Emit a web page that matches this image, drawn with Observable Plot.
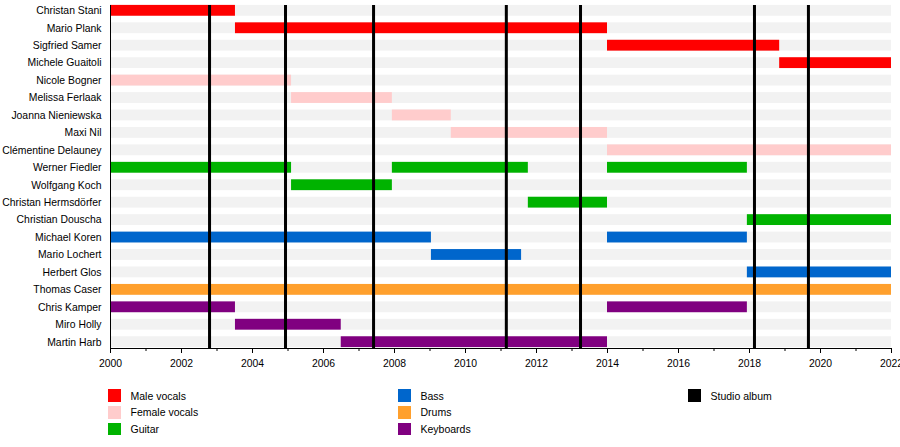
<!DOCTYPE html>
<html><head><meta charset="utf-8">
<script src="https://cdn.jsdelivr.net/npm/d3@7"></script>
<script src="https://cdn.jsdelivr.net/npm/@observablehq/plot@0.6"></script>
<style>
body{margin:0;background:#fff;font-family:"Liberation Sans",Arial,sans-serif;}
#chart{position:relative;width:900px;height:447px;overflow:hidden}
#chart svg{display:block}
.item{position:absolute;display:flex;align-items:center;font-size:10.5px;color:#000;height:12.5px;white-space:nowrap}
.sw{width:12.7px;height:12.5px;margin-right:9.5px;flex:none}
</style></head><body><div id="chart"></div>
<script>
// ---- data ----
const members = ["Christan Stani","Mario Plank","Sigfried Samer","Michele Guaitoli","Nicole Bogner","Melissa Ferlaak","Joanna Nieniewska","Maxi Nil","Clémentine Delauney","Werner Fiedler","Wolfgang Koch","Christan Hermsdörfer","Christian Douscha","Michael Koren","Mario Lochert","Herbert Glos","Thomas Caser","Chris Kamper","Miro Holly","Martin Harb"];
const memberRoles = ["Male vocals","Male vocals","Male vocals","Male vocals","Female vocals","Female vocals","Female vocals","Female vocals","Female vocals","Guitar","Guitar","Guitar","Guitar","Bass","Bass","Bass","Drums","Keyboards","Keyboards","Keyboards"];
const periodMember = ["Christan Stani","Mario Plank","Sigfried Samer","Michele Guaitoli","Nicole Bogner","Melissa Ferlaak","Joanna Nieniewska","Maxi Nil","Clémentine Delauney","Werner Fiedler","Werner Fiedler","Werner Fiedler","Wolfgang Koch","Christan Hermsdörfer","Christian Douscha","Michael Koren","Michael Koren","Mario Lochert","Herbert Glos","Thomas Caser","Chris Kamper","Chris Kamper","Miro Holly","Martin Harb"];
const periodStart = [2000,2003.52,2014,2018.85,2000,2005.1,2007.94,2009.6,2014,2000,2007.94,2014,2005.1,2011.77,2017.94,2000,2014,2009.04,2017.94,2000,2000,2014,2003.52,2006.5];
const periodEnd   = [2003.52,2014,2018.85,2022,2005.1,2007.94,2009.6,2014,2022,2005.1,2011.77,2017.94,2007.94,2014,2022,2009.04,2017.94,2011.58,2022,2022,2003.52,2017.94,2006.5,2014];
const albums = [2002.79,2004.93,2007.41,2011.15,2013.24,2018.14,2019.66];
const roleNames = ["Male vocals","Female vocals","Guitar","Bass","Drums","Keyboards"];
const roleColors = ["#ff0000","#ffcccc","#00b300","#0066cc","#ffa02d","#800080"];
const xDomain = [2000, 2022];
const majorTicks = [2000,2002,2004,2006,2008,2010,2012,2014,2016,2018,2020,2022];
const minorTicks = [2001,2003,2005,2007,2009,2011,2013,2015,2017,2019,2021];
const albumLabel = "Studio album";

const roleOf = new Map(members.map((m, i) => [m, memberRoles[i]]));
const periods = periodMember.map((m, i) => ({member: m, role: roleOf.get(m), start: periodStart[i], end: periodEnd[i]}));

const inset = 3.3;
const plot = Plot.plot({
  width: 900, height: 380,
  marginLeft: 110, marginRight: 9, marginTop: 1.6, marginBottom: 29.6,
  style: {fontFamily: "'Liberation Sans', Arial, sans-serif", fontSize: "10.4px", color: "#000", background: "#fff"},
  x: {domain: xDomain},
  y: {domain: members, padding: 0, round: false, axis: null},
  color: {domain: roleNames, range: roleColors},
  marks: [
    Plot.barX(members, {x1: () => xDomain[0], x2: () => xDomain[1], y: d => d, fill: "#f2f2f2", insetTop: inset, insetBottom: inset}),
    Plot.barX(periods, {x1: "start", x2: "end", y: "member", fill: "role", insetTop: inset, insetBottom: inset}),
    Plot.ruleX(albums, {x: d => d, stroke: "#000", strokeWidth: 3, insetTop: 3.4, insetBottom: 2.4}),
    Plot.frame({anchor: "bottom", stroke: "#000", insetBottom: 2.4}),
    Plot.frame({anchor: "left", stroke: "#000", insetTop: 3.4, insetBottom: 2.4}),
    Plot.axisX({ticks: majorTicks, tickFormat: d => String(d), tickSize: 5, tickPadding: 6, fontSize: 10.4, label: null, dy: -2.4}),
    Plot.axisX({ticks: minorTicks, tickFormat: () => "", tickSize: 3, label: null, dy: -2.4}),
    Plot.axisY({tickSize: 0, tickPadding: 9, fontSize: 10.4, label: null})
  ]
});
const chart = document.getElementById("chart");
chart.appendChild(plot);

// legend
const items = roleNames.map((r, i) => ({label: r, color: roleColors[i]})).concat([{label: albumLabel, color: "#000"}]);
items.forEach((it, i) => {
  const col = Math.floor(i / 3), row = i % 3;
  const d = document.createElement("div");
  d.className = "item";
  d.style.left = (108.3 + 290 * col) + "px";
  d.style.top = (389.3 + 16.7 * row) + "px";
  d.innerHTML = `<span class="sw" style="background:${it.color}"></span><span>${it.label}</span>`;
  chart.appendChild(d);
});
</script></body></html>
